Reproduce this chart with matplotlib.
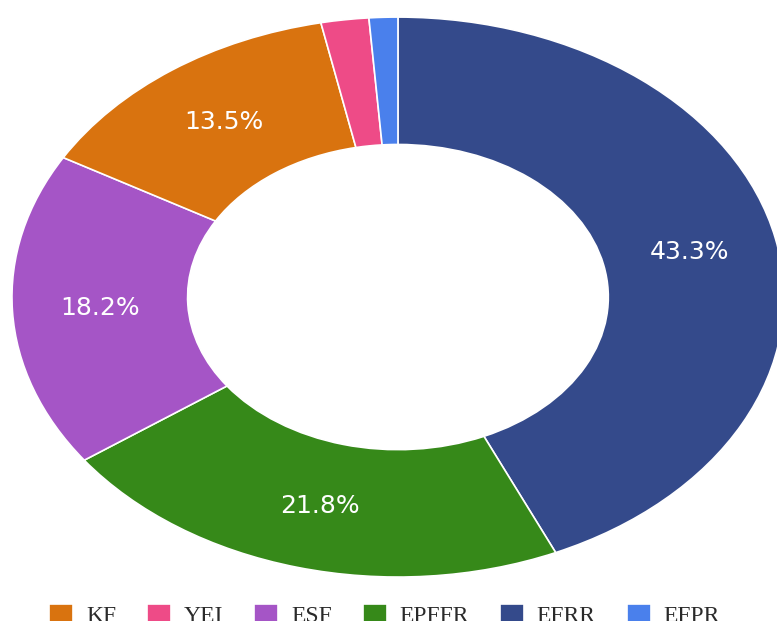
"""
Donut chart of category shares (KF / YEI / ESF / EPFFR / EFRR / EFPR)
"""
import matplotlib
matplotlib.use('Agg')
import matplotlib.pyplot as plt

# data, listed in drawing order (clockwise from 12 o'clock)
labels = ['EFRR', 'EPFFR', 'ESF', 'KF', 'YEI', 'EFPR']
shares = [43.3, 21.8, 18.2, 13.5, 2.0, 1.2]
colors = ['#344A8B', '#368919', '#A555C6', '#D9730F', '#EE4B87', '#4A80EC']
legend_order = ['KF', 'YEI', 'ESF', 'EPFFR', 'EFRR', 'EFPR']

HOLE = 0.545


def pct_label(p):
    # plotly-style: tiny slices get no text
    return f'{p:.1f}%' if p >= 5 else ''


def main():
    fig = plt.figure(figsize=(7.77, 6.21), dpi=100)
    ax = fig.add_axes([0, 0, 1, 1])

    wedges, _, autotexts = ax.pie(
        shares, colors=colors, startangle=90, counterclock=False,
        autopct=pct_label, pctdistance=(1 + HOLE) / 2,
        wedgeprops=dict(width=1 - HOLE, edgecolor='white', linewidth=1.2),
        textprops=dict(color='white', fontsize=18, family='DejaVu Sans'))

    # the original is stretched horizontally (ellipse), so free the aspect
    ax.set_aspect('auto')
    ax.set_xlim(-1.031, 0.982)
    ax.set_ylim(-1.157, 1.061)
    ax.axis('off')

    by_name = dict(zip(labels, wedges))
    leg = fig.legend([by_name[n] for n in legend_order], legend_order,
                     loc='upper center', bbox_to_anchor=(0.495, 0.062),
                     ncol=6, frameon=False, handlelength=1.0, handleheight=1.0,
                     handletextpad=0.55, columnspacing=1.32,
                     prop=dict(family='Liberation Serif', size=17))
    for t in leg.get_texts():
        t.set_color('#2a2a2a')

    fig.savefig('out.png', dpi=100)


if __name__ == '__main__':
    main()
